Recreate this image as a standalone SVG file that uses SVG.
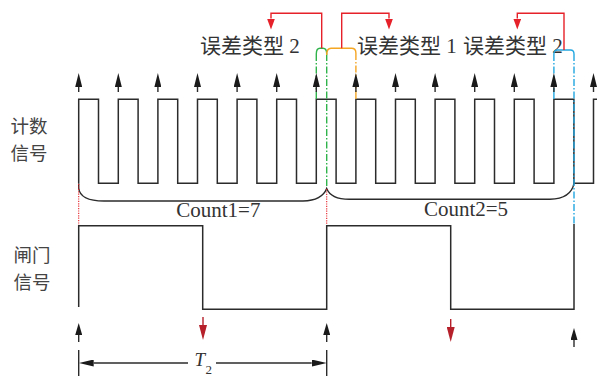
<svg xmlns="http://www.w3.org/2000/svg" width="597" height="376" viewBox="0 0 597 376">
<style>
.sig{fill:none;stroke:#2b2b2b;stroke-width:1.5;stroke-linejoin:miter}
.ln{fill:none;stroke:#2b2b2b;stroke-width:1.4}
.txt{font-family:"Liberation Serif","Noto Sans CJK SC",serif;fill:#333;font-size:21px}
.cjk{font-family:"Noto Sans CJK SC","Liberation Serif",sans-serif;fill:#444;font-size:18.5px}
.red{fill:none;stroke:#e62129;stroke-width:1.4}
.dred{fill:none;stroke:#b5202a;stroke-width:1.4}
.dot{fill:none;stroke:#e62129;stroke-width:1.1;stroke-dasharray:1.2 1.2}
.grn{fill:none;stroke:#2fb34a;stroke-width:1.4}
.org{fill:none;stroke:#f5a623;stroke-width:1.4}
.blu{fill:none;stroke:#22a7e0;stroke-width:1.4}
.dd{stroke-dasharray:7 2 1.5 2}
.at{marker-end:url(#hTop)}
.ab{marker-end:url(#hBot)}
</style>
<defs>
<marker id="hTop" viewBox="0 -3.5 14 7" markerWidth="14" markerHeight="7" refX="0" refY="0" orient="auto" markerUnits="userSpaceOnUse"><path d="M0,-3.5 L14,0 L0,3.5 z" fill="#1a1a1a"/></marker>
<marker id="hBot" viewBox="0 -3.5 12 7" markerWidth="12" markerHeight="7" refX="0" refY="0" orient="auto" markerUnits="userSpaceOnUse"><path d="M0,-3.5 L12,0 L0,3.5 z" fill="#1a1a1a"/></marker>
<marker id="hRed" viewBox="0 -4 11 8" markerWidth="11" markerHeight="8" refX="0" refY="0" orient="auto" markerUnits="userSpaceOnUse"><path d="M0,-4 L11,0 L0,4 z" fill="#e62129"/></marker>
<marker id="hDRed" viewBox="0 -4 15 8" markerWidth="15" markerHeight="8" refX="0" refY="0" orient="auto" markerUnits="userSpaceOnUse"><path d="M0,-4 L15,0 L0,4 z" fill="#b5202a"/></marker>
<marker id="hDim" viewBox="0 -3.5 15 7" markerWidth="15" markerHeight="7" refX="0" refY="0" orient="auto" markerUnits="userSpaceOnUse"><path d="M0,-3.5 L15,0 L0,3.5 z" fill="#1a1a1a"/></marker>
</defs>

<g id="labels">
<text class="cjk" x="10.5" y="133">计数</text>
<text class="cjk" x="10.5" y="160">信号</text>
<text class="cjk" x="13.5" y="261.5">闸门</text>
<text class="cjk" x="13.5" y="288.5">信号</text>
</g>

<g id="error-labels">
<text class="txt" x="200" y="53">误差类型 2</text>
<text class="txt" x="357" y="53">误差类型 1</text>
<text class="txt" x="463" y="53">误差类型 2</text>
</g>

<g id="count-signal">
<path class="sig" d="M78.7,183.3 V99.3 H98.5 V183.3 H118.3 V99.3 H138.1 V183.3 H157.9 V99.3 H177.7 V183.3 H197.5 V99.3 H217.3 V183.3 H237.1 V99.3 H256.9 V183.3 H276.7 V99.3 H296.5 V183.3 H316.3 V99.3 H336.1 V183.3 H355.9 V99.3 H375.7 V183.3 H395.5 V99.3 H415.3 V183.3 H435.1 V99.3 H454.9 V183.3 H474.7 V99.3 H494.5 V183.3 H514.3 V99.3 H534.1 V183.3 H553.9 V99.3 H573.9 V183.3 H593.5 V99.3 H597"/>
</g>

<g id="gate-signal">
<path class="sig" d="M78.7,307 V225.7 H202.7 V309.3 H326.7 V225.7 H450.7 V309.3 H574 V224"/>
</g>

<g id="braces">
<path class="ln" d="M78.7,183.3 V188 Q80,201 104,201 H303 Q322,200.5 326.7,188.5 Q331,199.5 350,199.3 H550 Q571,198.5 574,183.3"/>
<text class="txt" x="218.3" y="217" text-anchor="middle">Count1=7</text>
<text class="txt" x="466" y="215.5" text-anchor="middle">Count2=5</text>
</g>

<g id="connectors">
<path class="dot" d="M78.7,184 V225"/>
<path class="dot" d="M326.7,189 V225"/>
<path class="grn" d="M316.3,54 Q316.3,48.3 320,48.3 H323 Q326.7,48.3 326.7,54"/>
<path class="grn dd" d="M316.3,54 V92 M326.7,54 V188"/>
<path class="grn" d="M316.3,92 V99"/>
<path class="org" d="M326.7,55 Q326.7,48.3 331,48.3 H351.5 Q355.9,48.3 355.9,53"/>
<path class="org dd" d="M355.9,53 V91"/>
<path class="org" d="M355.9,91 V99"/>
<path class="blu" d="M553.9,54 Q553.9,50 557.5,50 H570.5 Q574,50 574,54"/>
<path class="blu dd" d="M553.9,54 V88 M574,54 V224"/>
<path class="blu" d="M553.9,88 V99"/>

<path class="ln at" d="M78.7,92 V87"/>
<path class="ln at" d="M118.3,92 V87"/>
<path class="ln at" d="M157.9,92 V87"/>
<path class="ln at" d="M197.5,92 V87"/>
<path class="ln at" d="M237.1,92 V87"/>
<path class="ln at" d="M276.7,92 V87"/>
<path class="ln at" d="M316.3,92 V87"/>
<path class="ln at" d="M355.9,92 V87"/>
<path class="ln at" d="M395.5,92 V87"/>
<path class="ln at" d="M435.1,92 V87"/>
<path class="ln at" d="M474.7,92 V87"/>
<path class="ln at" d="M514.3,92 V87"/>
<path class="ln at" d="M553.9,92 V87"/>
<path class="ln at" d="M593.5,92 V87"/>

<path class="red" marker-end="url(#hRed)" d="M321.7,48.3 V13.3 H271 V18.5"/>
<path class="red" marker-end="url(#hRed)" d="M341.7,48.3 V13.3 H389 V18.5"/>
<path class="red" marker-end="url(#hRed)" d="M564,50 V13.3 H517.3 V18.5"/>

<path class="ln ab" d="M78.7,342 V335"/>
<path class="ln ab" d="M326.7,342 V335"/>
<path class="ln ab" d="M574,347 V340"/>
<path class="dred" marker-end="url(#hDRed)" d="M203,317 V325"/>
<path class="dred" marker-end="url(#hDRed)" d="M450.7,319 V327"/>

<path class="ln" d="M78.7,350 V376 M326.7,350 V376"/>
<path class="ln" marker-end="url(#hDim)" d="M188,363 H93.7"/>
<path class="ln" marker-end="url(#hDim)" d="M216,363 H311.7"/>
<text x="194.5" y="365.5" font-family="Liberation Serif, serif" font-style="italic" font-size="19" fill="#333">T</text>
<text x="205.5" y="373.5" font-family="Liberation Serif, serif" font-size="13" fill="#333">2</text>
</g>
</svg>
